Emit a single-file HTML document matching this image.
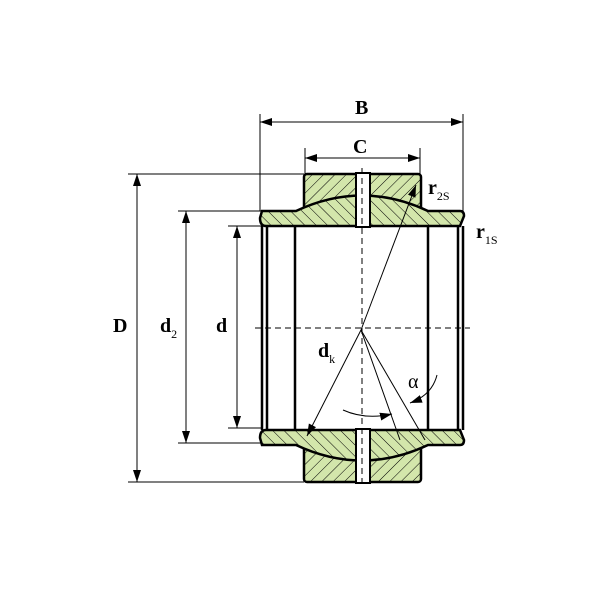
<!DOCTYPE html>
<html><head><style>body{margin:0;background:#fff}svg{display:block}</style></head><body>
<svg width="600" height="600" viewBox="0 0 600 600" xmlns="http://www.w3.org/2000/svg" font-family="Liberation Serif, serif">
<defs>
<pattern id="h" patternUnits="userSpaceOnUse" width="8" height="8" patternTransform="rotate(-45)"><rect width="8" height="8" fill="#d3e6ab"/><line x1="0" y1="0" x2="0" y2="8" stroke="#000" stroke-width="1"/></pattern>
<pattern id="h2" patternUnits="userSpaceOnUse" width="8" height="8" patternTransform="rotate(45)"><rect width="8" height="8" fill="#d3e6ab"/><line x1="0" y1="0" x2="0" y2="8" stroke="#000" stroke-width="1"/></pattern>
<marker id="a" markerWidth="12" markerHeight="8" refX="12" refY="4" orient="auto-start-reverse" markerUnits="userSpaceOnUse"><path d="M0,0 L12,4 L0,8 Z" fill="#000"/></marker>
<g id="top">
<rect x="304" y="174" width="117" height="40" rx="3" stroke="#000" stroke-width="2.5" fill="url(#h2)"/>
<path d="M262,211 H296 Q362,180 428,211 H460 Q464,211 464,216 L460,226 H266 Q260,226 260,218 Z" stroke="#000" stroke-width="2.5" fill="url(#h)"/>
</g>
<g id="bot">
<rect x="304" y="174" width="117" height="40" rx="3" stroke="#000" stroke-width="2.5" fill="url(#h)"/>
<path d="M262,211 H296 Q362,180 428,211 H460 Q464,211 464,216 L460,226 H266 Q260,226 260,218 Z" stroke="#000" stroke-width="2.5" fill="url(#h2)"/>
</g>
</defs>
<g stroke="#000" stroke-width="1" fill="none">
<line x1="128" y1="174" x2="304" y2="174"/><line x1="128" y1="482" x2="304" y2="482"/>
<line x1="178" y1="211" x2="262" y2="211"/><line x1="178" y1="443" x2="262" y2="443"/>
<line x1="228" y1="226" x2="262" y2="226"/><line x1="228" y1="428" x2="262" y2="428"/>
<line x1="260" y1="114" x2="260" y2="211"/><line x1="463" y1="114" x2="463" y2="211"/>
<line x1="305" y1="148" x2="305" y2="174"/><line x1="420" y1="148" x2="420" y2="174"/>
<line x1="260" y1="122" x2="463" y2="122" marker-start="url(#a)" marker-end="url(#a)"/>
<line x1="305" y1="158" x2="420" y2="158" marker-start="url(#a)" marker-end="url(#a)"/>
<line x1="137" y1="174" x2="137" y2="482" marker-start="url(#a)" marker-end="url(#a)"/>
<line x1="186" y1="211" x2="186" y2="443" marker-start="url(#a)" marker-end="url(#a)"/>
<line x1="237" y1="226" x2="237" y2="428" marker-start="url(#a)" marker-end="url(#a)"/>
</g>
<g stroke="#000" stroke-width="2.5">
<line x1="262" y1="226" x2="262" y2="430"/><line x1="267" y1="226" x2="267" y2="430"/>
<line x1="295" y1="226" x2="295" y2="430"/><line x1="428" y1="226" x2="428" y2="430"/>
<line x1="458" y1="226" x2="458" y2="430"/><line x1="463" y1="226" x2="463" y2="430"/>
</g>
<use href="#top"/>
<use href="#bot" transform="translate(0,656) scale(1,-1)"/>
<rect x="356" y="173" width="14" height="54" fill="#fff" stroke="#000" stroke-width="2"/>
<rect x="356" y="429" width="14" height="54" fill="#fff" stroke="#000" stroke-width="2"/>
<g stroke="#000" stroke-width="1" fill="none">
<line x1="255" y1="328" x2="470" y2="328" stroke-dasharray="6,4"/>
<line x1="362" y1="168" x2="362" y2="488" stroke-dasharray="6,4"/>
<line x1="361" y1="330" x2="416" y2="185" marker-end="url(#a)"/>
<line x1="361" y1="330" x2="307" y2="436" marker-end="url(#a)"/>
<line x1="361" y1="330" x2="400" y2="440"/>
<line x1="361" y1="330" x2="425" y2="440"/>
<path d="M437,375 Q432,395 410,403" marker-end="url(#a)"/>
<path d="M343,410 Q365,420 392,414" marker-end="url(#a)"/>
</g>
<g font-size="20" font-weight="bold">
<text x="355" y="114">B</text><text x="353" y="153">C</text>
<text x="113" y="332">D</text><text x="160" y="332">d<tspan font-size="12" font-weight="normal" dy="6">2</tspan></text>
<text x="216" y="332">d</text>
<text x="318" y="357">d<tspan font-size="12" font-weight="normal" dy="6">k</tspan></text>
<text x="428" y="194">r<tspan font-size="12" font-weight="normal" dy="6">2S</tspan></text>
<text x="476" y="238">r<tspan font-size="12" font-weight="normal" dy="6">1S</tspan></text>
<text x="408" y="388" font-weight="normal" font-size="20">α</text>
</g>
</svg>
</body></html>
